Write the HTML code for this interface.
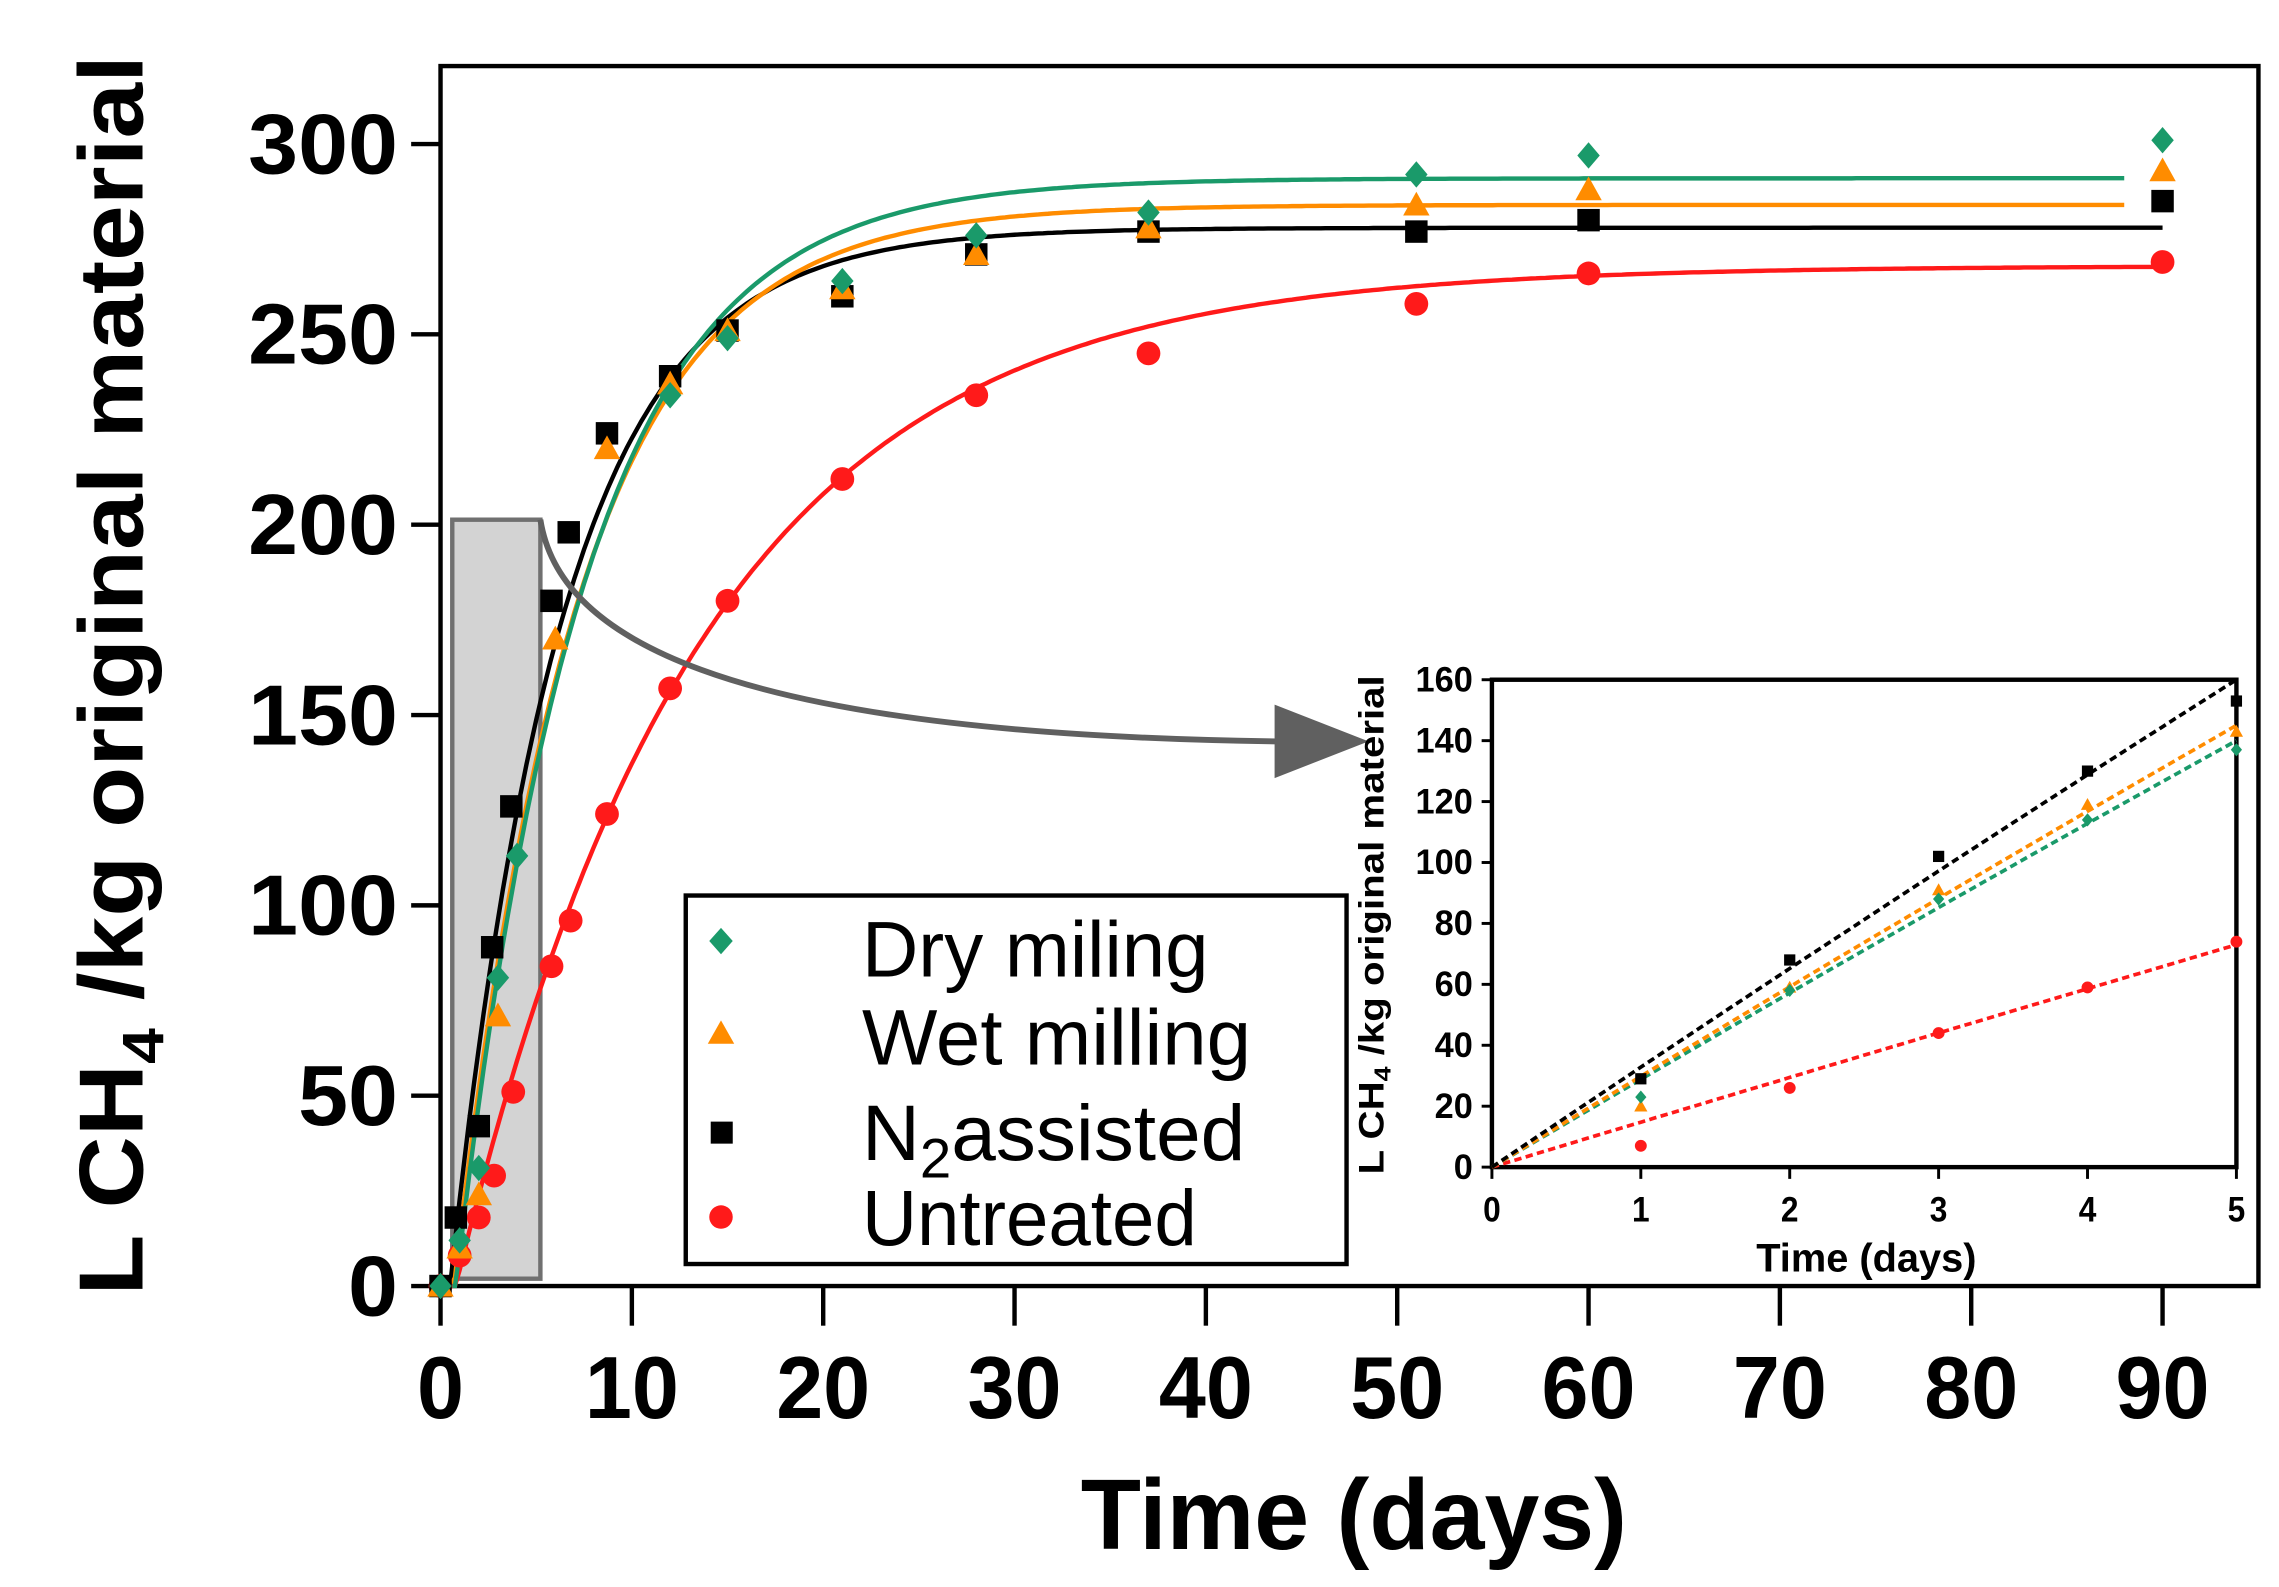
<!DOCTYPE html>
<html><head><meta charset="utf-8"><style>
html,body{margin:0;padding:0;background:#fff;}
svg{display:block;}
text{font-family:"Liberation Sans",Arial,sans-serif;}
</style></head><body>
<svg id="s" width="2279" height="1587" viewBox="0 0 1552 1081" preserveAspectRatio="none" xmlns="http://www.w3.org/2000/svg">
<rect width="1552" height="1081" fill="#fff"/>
<rect x="300" y="45" width="1238" height="831" fill="none" stroke="#000" stroke-width="3"/>
<g id="ticks" stroke="#000" stroke-width="3"></g>
<g id="labels" font-weight="bold" fill="#000"></g>
<text x="922" y="1055" font-size="68" font-weight="bold" text-anchor="middle" textLength="372" lengthAdjust="spacingAndGlyphs">Time (days)</text>
<text transform="translate(97,460) rotate(-90)" font-size="62" font-weight="bold" text-anchor="middle" textLength="845" lengthAdjust="spacingAndGlyphs">L CH<tspan font-size="40" dy="14">4</tspan><tspan dy="-14"> /kg original material</tspan></text>
<rect x="308" y="354" width="60" height="517" fill="#d3d3d3" stroke="#707070" stroke-width="3"/>
<g id="curves" fill="none" stroke-width="3"></g>
<g id="pts"></g>
<path d="M368,354 C380,430 480,500 870,505" fill="none" stroke="#606060" stroke-width="4"/>
<polygon points="868,480 932,505 868,530" fill="#606060"/>
<rect x="467" y="610" width="450" height="251" fill="#fff" stroke="#000" stroke-width="3"/>
<g font-size="54" fill="#000">
<text x="587" y="665" textLength="236" lengthAdjust="spacingAndGlyphs">Dry miling</text>
<text x="587" y="725" textLength="265" lengthAdjust="spacingAndGlyphs">Wet milling</text>
<text x="587" y="790" textLength="261" lengthAdjust="spacingAndGlyphs">N<tspan font-size="38" dy="12">2</tspan><tspan dy="-12">assisted</tspan></text>
<text x="587" y="848" textLength="228" lengthAdjust="spacingAndGlyphs">Untreated</text>
</g>
<polygon points="491,632 499,641 491,650 483,641" fill="#1a9a6a"/>
<polygon points="491,695 500,711 482,711" fill="#ff8c00"/>
<rect x="484" y="764" width="15" height="15" fill="#000"/>
<circle cx="491" cy="829" r="8" fill="#ff1a1a"/>
<rect x="1016" y="463" width="507" height="332" fill="#fff" stroke="#000" stroke-width="3"/>
<g id="iticks" stroke="#000" stroke-width="2"></g>
<g id="ilabels" font-size="24" font-weight="bold" fill="#000"></g>
<text x="1271" y="866" font-size="27" font-weight="bold" text-anchor="middle" textLength="150" lengthAdjust="spacingAndGlyphs">Time (days)</text>
<text transform="translate(942,630) rotate(-90)" font-size="24" font-weight="bold" text-anchor="middle" textLength="340" lengthAdjust="spacingAndGlyphs">L CH<tspan font-size="16" dy="5">4</tspan><tspan dy="-5"> /kg original material</tspan></text>
<g id="icurves" fill="none" stroke-width="2.5" stroke-dasharray="5,3"></g>
<g id="ipts"></g>
</svg>
<script>
var NS="http://www.w3.org/2000/svg";
function el(p,t,a,txt){var e=document.createElementNS(NS,t);for(var k in a)e.setAttribute(k,a[k]);if(txt!==undefined)e.textContent=txt;document.getElementById(p).appendChild(e);return e;}
function X(t){return 300+t*13.03;} function Y(v){return 876-v*2.593;}
for(var i=0;i<=9;i++){var s=String(i*10);el('ticks','line',{x1:X(i*10),y1:876,x2:X(i*10),y2:903});el('labels','text',{x:X(i*10),y:966,'font-size':60,'text-anchor':'middle',textLength:s.length*32,lengthAdjust:'spacingAndGlyphs'},s);}
for(var j=0;j<=6;j++){var s=String(j*50);el('ticks','line',{x1:280,y1:Y(j*50),x2:300,y2:Y(j*50)});el('labels','text',{x:271,y:Y(j*50)+20,'font-size':58,'text-anchor':'end',textLength:s.length*34,lengthAdjust:'spacingAndGlyphs'},s);}
var C={g:"#1a9a6a",o:"#ff8c00",k:"#000",r:"#ff1a1a"};
var fits=[["r",268,0.078,0.8,90],["k",278,0.17,0.5,90],["o",284,0.155,0.7,88],["g",291,0.15,0.8,88]];
fits.forEach(function(f){var d="";for(var t=0;t<=f[4];t+=0.25){var v=t<f[3]?0:f[1]*(1-Math.exp(-f[2]*(t-f[3])));d+=(t==0?"M":"L")+X(t).toFixed(1)+","+Y(v).toFixed(1);}el('curves','path',{d:d,stroke:C[f[0]]});});
function mk(g,c,x,y,s){if(c=="g")el(g,'polygon',{points:(x)+","+(y-s)+" "+(x+s*0.85)+","+y+" "+x+","+(y+s)+" "+(x-s*0.85)+","+y,fill:C.g});
else if(c=="o")el(g,'polygon',{points:x+","+(y-s)+" "+(x+s)+","+(y+s*0.8)+" "+(x-s)+","+(y+s*0.8),fill:C.o});
else if(c=="k")el(g,'rect',{x:x-s*0.85,y:y-s*0.85,width:s*1.7,height:s*1.7,fill:C.k});
else el(g,'circle',{cx:x,cy:y,r:s*0.9,fill:C.r});}
var D={
g:[[0,0],[1,12],[2,31],[3,81],[4,113],[12,234],[15,249],[21,264],[28,276],[37,282],[51,292],[60,297],[90,301]],
o:[[0,0],[1,10],[2,24],[3,71],[6,170],[8.7,220],[12,237],[15,251],[21,262],[28,271],[37,278],[51,284],[60,288],[90,293]],
k:[[0,0],[0.8,18],[2,42],[2.7,89],[3.7,126],[5.8,180],[6.7,198],[8.7,224],[12,239],[15,251],[21,260],[28,271],[37,277],[51,277],[60,280],[90,285]],
r:[[0,0],[1,8],[2,18],[2.8,29],[3.8,51],[5.8,84],[6.8,96],[8.7,124],[12,157],[15,180],[21,212],[28,234],[37,245],[51,258],[60,266],[90,269]]};
["r","k","o","g"].forEach(function(c){D[c].forEach(function(p){mk('pts',c,X(p[0]),Y(p[1]),9);});});
function IX(t){return 1016+t*101.4;} function IY(v){return 795-v*2.075;}
for(var i=0;i<=5;i++){el('iticks','line',{x1:IX(i),y1:795,x2:IX(i),y2:803});el('ilabels','text',{x:IX(i),y:832,'text-anchor':'middle',textLength:12,lengthAdjust:'spacingAndGlyphs'},String(i));}
for(var j=0;j<=8;j++){var s=String(j*20);el('iticks','line',{x1:1009,y1:IY(j*20),x2:1016,y2:IY(j*20)});el('ilabels','text',{x:1003,y:IY(j*20)+8,'text-anchor':'end',textLength:s.length*13,lengthAdjust:'spacingAndGlyphs'},s);}
var L=[["r",14.8,0.04],["g",29,0.2],["o",30,0.2],["k",33,0.2]];
L.forEach(function(f){var d="";for(var t=0;t<=5.001;t+=0.1){d+=(t==0?"M":"L")+IX(t).toFixed(1)+","+IY(f[1]*t-f[2]*t*t).toFixed(1);}el('icurves','path',{d:d,stroke:C[f[0]]});});
var ID={k:[[1,29],[2,68],[3,102],[4,130],[5,153]],o:[[1,20],[2,59],[3,91],[4,119],[5,143]],g:[[1,23],[2,58],[3,88],[4,114],[5,137]],r:[[1,7],[2,26],[3,44],[4,59],[5,74]]};
["r","k","o","g"].forEach(function(c){ID[c].forEach(function(p){mk('ipts',c,IX(p[0]),IY(p[1]),4.5);});});
</script>
</body></html>
